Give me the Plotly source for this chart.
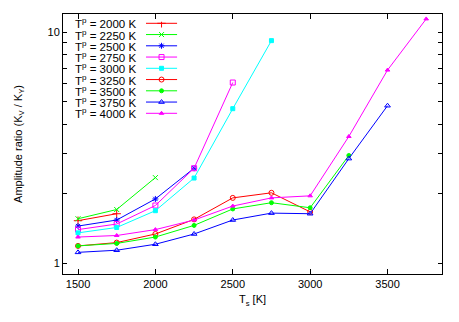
import plotly.graph_objects as go

ts = [1500, 1750, 2000, 2250, 2500, 2750, 3000, 3250, 3500, 3750]

tp_labels = ["2000", "2250", "2500", "2750", "3000", "3250", "3500", "3750", "4000"]
ratios = [
    [1.53, 1.64],
    [1.56, 1.71, 2.35],
    [1.45, 1.54, 1.90, 2.58],
    [1.40, 1.48, 1.78, 2.58, 6.06],
    [1.355, 1.43, 1.69, 2.34, 4.67, 9.2],
    [1.19, 1.23, 1.34, 1.55, 1.92, 2.02, 1.67],
    [1.19, 1.22, 1.30, 1.46, 1.72, 1.83, 1.74, 2.93],
    [1.116, 1.14, 1.21, 1.34, 1.54, 1.65, 1.64, 2.84, 4.81],
    [1.30, 1.32, 1.40, 1.54, 1.77, 1.92, 1.96, 3.54, 6.86, 11.42],
]
colors = ["#ff0000", "#00ff00", "#0000ff", "#ff00ff", "#00ffff",
          "#ff0000", "#00ff00", "#0000ff", "#ff00ff"]
symbols = ["cross-thin-open", "x-thin-open", "asterisk-open", "square-open", "square",
           "circle-open", "circle", "triangle-up-open", "triangle-up"]
sizes = [6, 5, 5, 5, 4, 5, 4, 5, 4]

x_ticks = [1500, 2000, 2500, 3000, 3500]
y_ticks = [1, 2, 3, 4, 5, 6, 7, 8, 9, 10]
y_ticktext = ["1", "", "", "", "", "", "", "", "", "10"]
font = "Liberation Sans, Arial, sans-serif"

# key box, a small separate subplot in the empty upper-left corner
kx0, kx1 = 0.2, 0.31
ky0, ky1 = 0.5, 0.97

fig = go.Figure()
annotations = []
for i, (lab, ys) in enumerate(zip(tp_labels, ratios)):
    mk = dict(symbol=symbols[i], size=sizes[i], color=colors[i],
              line=dict(color=colors[i], width=1))
    fig.add_trace(go.Scatter(x=ts[:len(ys)], y=ys, mode="lines+markers",
                             line=dict(color=colors[i], width=1), marker=mk,
                             showlegend=False))
    ky = 1 - (23.3 + 11.25 * i - 14) / 260
    yk = (ky - ky0) / (ky1 - ky0)
    x_a = (0.219 - kx0) / (kx1 - kx0)
    x_b = (0.301 - kx0) / (kx1 - kx0)
    fig.add_trace(go.Scatter(x=[x_a, x_b], y=[yk, yk], xaxis="x2", yaxis="y2",
                             mode="lines", line=dict(color=colors[i], width=1),
                             showlegend=False, hoverinfo="skip"))
    fig.add_trace(go.Scatter(x=[(x_a + x_b) / 2], y=[yk], xaxis="x2", yaxis="y2",
                             mode="markers", marker=mk, showlegend=False, hoverinfo="skip"))
    annotations.append(dict(x=0.198, y=ky, xref="paper", yref="paper", xanchor="right",
                            yanchor="middle", showarrow=False,
                            text="T<sup>p</sup> = %s K" % lab,
                            font=dict(family=font, size=11.5, color="black")))

fig.update_layout(
    width=459, height=322,
    margin=dict(l=63, r=17, t=14, b=48),
    paper_bgcolor="white", plot_bgcolor="rgba(0,0,0,0)",
    font=dict(family=font, size=11, color="black"),
    annotations=annotations,
    xaxis=dict(range=[1403, 3852], tickvals=x_ticks, ticks="inside", ticklen=5,
               tickcolor="black", tickwidth=1,
               showline=True, linecolor="black", linewidth=1, mirror="ticks",
               showgrid=False, zeroline=False,
               title=dict(text="T<sub>s</sub> [K]", standoff=6, font=dict(size=11))),
    yaxis=dict(type="log", range=[-0.046, 1.079], tickvals=y_ticks, ticktext=y_ticktext,
               ticks="inside", ticklen=4, tickcolor="black", tickwidth=1,
               showline=True, linecolor="black", linewidth=1, mirror="ticks",
               showgrid=False, zeroline=False,
               title=dict(text="Amplitude ratio (K<sub>V</sub> / K<sub>Y</sub>)",
                          standoff=22, font=dict(size=11))),
    xaxis2=dict(range=[0, 1], domain=[kx0, kx1], anchor="y2", visible=False),
    yaxis2=dict(range=[0, 1], domain=[ky0, ky1], anchor="x2", visible=False),
)

fig.write_html("out.html", post_script="document.body.style.margin='0';",
               config={"displayModeBar": False})
